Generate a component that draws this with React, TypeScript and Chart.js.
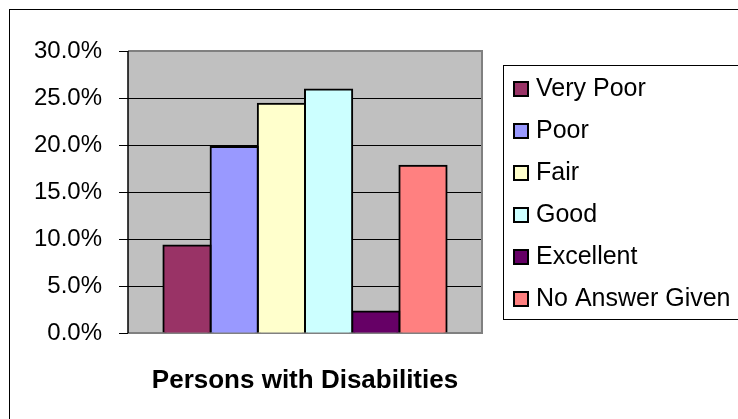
import React, { useEffect, useRef } from "react";
import { Chart, registerables } from "chart.js";

Chart.register(...registerables);

const categories = ["Persons with Disabilities"];
const seriesNames = ["Very Poor", "Poor", "Fair", "Good", "Excellent", "No Answer Given"];
const seriesValues = [9.3, 19.8, 24.4, 25.9, 2.3, 17.8];
const seriesColors = ["#993366", "#9999FF", "#FFFFCC", "#CCFFFF", "#660066", "#FF8080"];
const yTickLabels = ["0.0%", "5.0%", "10.0%", "15.0%", "20.0%", "25.0%", "30.0%"];

const FONT = "'Liberation Sans', Arial, sans-serif";

const framePlugin = {
  id: "frame",
  beforeDraw(chart: any) {
    const { ctx, chartArea } = chart;
    ctx.save();
    ctx.fillStyle = "#ffffff";
    ctx.fillRect(0, 0, chart.width, chart.height);
    ctx.strokeStyle = "#000000";
    ctx.lineWidth = 1;
    ctx.strokeRect(9.5, 9.5, 900, 600);
    ctx.fillStyle = "#C0C0C0";
    ctx.fillRect(chartArea.left, chartArea.top, chartArea.right - chartArea.left, chartArea.bottom - chartArea.top);
    ctx.restore();
  },
  beforeDatasetsDraw(chart: any) {
    const { ctx, chartArea } = chart;
    ctx.save();
    ctx.strokeStyle = "#808080";
    ctx.lineWidth = 2;
    ctx.beginPath();
    ctx.moveTo(chartArea.left, chartArea.top);
    ctx.lineTo(chartArea.right, chartArea.top);
    ctx.lineTo(chartArea.right, chartArea.bottom);
    ctx.lineTo(chartArea.left, chartArea.bottom);
    ctx.stroke();
    ctx.strokeStyle = "#000000";
    ctx.lineWidth = 1.5;
    ctx.beginPath();
    ctx.moveTo(chartArea.left, chartArea.top);
    ctx.lineTo(chartArea.left, chartArea.bottom);
    ctx.stroke();
    ctx.restore();
  },
  afterDraw(chart: any) {
    const { ctx } = chart;
    ctx.save();
    ctx.fillStyle = "#ffffff";
    ctx.fillRect(503.5, 65.5, 400, 254);
    ctx.strokeStyle = "#000000";
    ctx.lineWidth = 1;
    ctx.strokeRect(503.5, 65.5, 400, 254);
    chart.data.datasets.forEach((ds: any, i: number) => {
      const cy = 89 + i * 42;
      ctx.fillStyle = ds.backgroundColor;
      ctx.fillRect(513, cy - 8, 16, 16);
      ctx.strokeStyle = "#000000";
      ctx.lineWidth = 2;
      ctx.strokeRect(514, cy - 7, 14, 14);
      ctx.fillStyle = "#000000";
      ctx.font = `25px ${FONT}`;
      ctx.textBaseline = "alphabetic";
      ctx.textAlign = "left";
      ctx.fillText(ds.label, 536, cy + 7);
    });
    ctx.restore();
  },
};

export default function App() {
  const ref = useRef<HTMLCanvasElement | null>(null);
  useEffect(() => {
    if (!ref.current) return;
    const chart = new Chart(ref.current, {
      type: "bar",
      data: {
        labels: categories,
        datasets: seriesNames.map((name, i) => ({
          label: name,
          data: [seriesValues[i]],
          backgroundColor: seriesColors[i],
          borderColor: "#000000",
          borderWidth: 2,
          inflateAmount: 1,
          categoryPercentage: 0.8,
          barPercentage: 1.0,
        })),
      },
      options: {
        animation: false,
        responsive: false,
        devicePixelRatio: 1,
        layout: { padding: { left: 0, top: 51, right: 256, bottom: 0 } },
        plugins: { legend: { display: false }, tooltip: { enabled: false } },
        scales: {
          x: {
            grid: { display: false, drawTicks: false },
            border: { display: false },
            ticks: {
              color: "#000000",
              padding: 32,
              font: { family: FONT, size: 26, weight: "bold" },
            },
            afterFit: (s: any) => {
              s.height = 86;
            },
          },
          y: {
            min: 0,
            max: 30,
            border: { display: false },
            grid: {
              color: (c: any) => (c.tick && (c.tick.value === 0 || c.tick.value === 30) ? "rgba(0,0,0,0)" : "#000000"),
              lineWidth: 1,
              tickColor: "#000000",
              tickLength: 9,
            },
            ticks: {
              stepSize: 5,
              color: "#000000",
              padding: 17,
              font: { family: FONT, size: 24 },
              callback: (_v: any, i: number) => yTickLabels[i],
            },
            afterFit: (s: any) => {
              s.width = 128;
            },
          },
        },
      },
      plugins: [framePlugin],
    });
    return () => chart.destroy();
  }, []);
  return (
    <div style={{ position: "fixed", left: 0, top: 0, width: 738, height: 419, background: "#fff" }}>
      <canvas ref={ref} width={738} height={419} style={{ display: "block" }} />
    </div>
  );
}
